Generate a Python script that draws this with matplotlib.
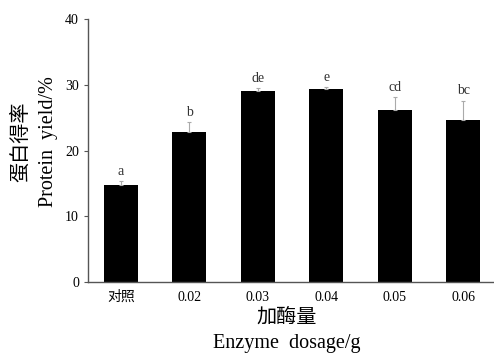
import numpy as np
import matplotlib
matplotlib.use("Agg")
import matplotlib.pyplot as plt

plt.rcParams['font.family'] = ['Liberation Serif', 'Noto Sans CJK SC']

# данные
categories = ['对照', '0.02', '0.03', '0.04', '0.05', '0.06']
yields = [14.8, 22.9, 29.1, 29.4, 26.2, 24.7]
errors = [0.6, 1.4, 0.4, 0.3, 1.9, 2.9]
letters = ['a', 'b', 'de', 'e', 'cd', 'bc']

fig = plt.figure(figsize=(4.94, 3.55), dpi=100)
ax = fig.add_axes([0.178, 0.205, 0.822, 0.741])

x = np.arange(len(categories))
ax.bar(x, yields, width=0.5, color='black', zorder=2)
ax.errorbar(x, yields, yerr=[np.zeros(len(errors)), errors], fmt='none',
            ecolor='#aaaaaa', elinewidth=0.8, capsize=1.5, capthick=0.8, zorder=3)

# буквы значимости над планками погрешностей
for xi, v, e, lab in zip(x, yields, errors, letters):
    ax.text(xi, v + e + 0.5, lab, ha='center', va='bottom', fontsize=10, color='#333333')

ax.set_xlim(-0.48, 5.45)
ax.set_ylim(0, 40)
ax.set_yticks([0, 10, 20, 30, 40])
ax.set_xticks(x)
ax.set_xticklabels(categories)
ax.tick_params(axis='x', length=0, labelsize=10, pad=6)
ax.tick_params(axis='y', length=3, width=0.8, labelsize=10, color='#555555')

for s in ['top', 'right']:
    ax.spines[s].set_visible(False)
for s in ['left', 'bottom']:
    ax.spines[s].set_color('#555555')
    ax.spines[s].set_linewidth(1.0)

# подписи осей
fig.text(0.58, 0.104, '加酶量', ha='center', va='center', fontsize=14.5)
fig.text(0.58, 0.031, 'Enzyme  dosage/g', ha='center', va='center', fontsize=14.5)
fig.text(0.043, 0.6, '蛋白得率', ha='center', va='center', rotation=90, fontsize=14.5)
fig.text(0.099, 0.6, 'Protein  yield/%', ha='center', va='center', rotation=90, fontsize=14.5)

fig.savefig('out.png', dpi=100)
